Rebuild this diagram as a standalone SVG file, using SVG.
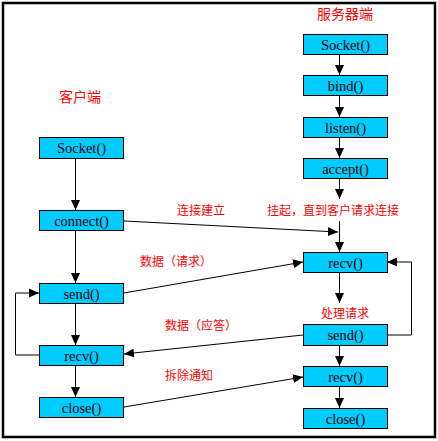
<svg xmlns="http://www.w3.org/2000/svg" width="438" height="441" viewBox="0 0 438 441">
<style>
.box{fill:#00CCFF;stroke:#000;stroke-width:1}
.bt{font-family:"Liberation Serif",serif;font-size:14.5px;fill:#000;text-anchor:middle}
.lb{font-family:"Noto Sans CJK SC",sans-serif;font-size:12px;fill:#FF0000}
.ln{stroke:#000;stroke-width:1;fill:none;marker-end:url(#ah)}
</style>
<defs>
<marker id="ah" markerUnits="userSpaceOnUse" markerWidth="10" markerHeight="10" refX="10" refY="5" orient="auto">
<path d="M0,0.5 L10,5 L0,9.5 z" fill="#000"/>
</marker>
</defs>
<rect x="0" y="0" width="438" height="441" fill="#fff"/>
<rect x="3" y="3" width="432" height="434" fill="none" stroke="#000" stroke-width="2.5"/>

<text class="lb" x="317" y="18.5" style="font-size:14px">服务器端</text>
<text class="lb" x="59" y="102" style="font-size:14px">客户端</text>
<text class="lb" x="177" y="214.5">连接建立</text>
<text class="lb" x="267" y="214.5">挂起，直到客户请求连接</text>
<text class="lb" x="140" y="266">数据（请求）</text>
<text class="lb" x="321" y="318">处理请求</text>
<text class="lb" x="165" y="329.5">数据（应答）</text>
<text class="lb" x="165" y="380">拆除通知</text>

<g id="connectors">
<line class="ln" x1="339.5" y1="54" x2="339.5" y2="75"/>
<line class="ln" x1="339.5" y1="96" x2="339.5" y2="117"/>
<line class="ln" x1="339.5" y1="137" x2="339.5" y2="158"/>
<line class="ln" x1="339.5" y1="178" x2="339.5" y2="199"/>
<line class="ln" x1="339.5" y1="221" x2="339.5" y2="252"/>
<line class="ln" x1="339.5" y1="272" x2="339.5" y2="303"/>
<line class="ln" x1="339.5" y1="345" x2="339.5" y2="366"/>
<line class="ln" x1="339.5" y1="386" x2="339.5" y2="408"/>
<line class="ln" x1="75.5" y1="158" x2="75.5" y2="210"/>
<line class="ln" x1="75.5" y1="230" x2="75.5" y2="283"/>
<line class="ln" x1="75.5" y1="303" x2="75.5" y2="345"/>
<line class="ln" x1="75.5" y1="365" x2="75.5" y2="397"/>
<line class="ln" x1="124" y1="221" x2="338" y2="232"/>
<line class="ln" x1="124" y1="293" x2="303" y2="262"/>
<line class="ln" x1="303" y1="335" x2="124" y2="354"/>
<line class="ln" x1="124" y1="407" x2="303" y2="377"/>
<polyline class="ln" points="39,355 15.5,355 15.5,293 39,293"/>
<polyline class="ln" points="387,335 411.5,335 411.5,262 387,262"/>
</g>

<g id="s-socket"><rect class="box" x="303.5" y="34.5" width="84" height="20"/><text class="bt" x="345.5" y="49.5">Socket()</text></g>
<g id="s-bind"><rect class="box" x="303.5" y="75.5" width="84" height="20"/><text class="bt" x="345.5" y="90.5">bind()</text></g>
<g id="s-listen"><rect class="box" x="303.5" y="117.5" width="84" height="20"/><text class="bt" x="345.5" y="132.5">listen()</text></g>
<g id="s-accept"><rect class="box" x="303.5" y="158.5" width="84" height="20"/><text class="bt" x="345.5" y="173.5">accept()</text></g>
<g id="s-recv"><rect class="box" x="303.5" y="252.5" width="84" height="20"/><text class="bt" x="345.5" y="267.5">recv()</text></g>
<g id="s-send"><rect class="box" x="303.5" y="324.5" width="84" height="21"/><text class="bt" x="345.5" y="340">send()</text></g>
<g id="s-recv2"><rect class="box" x="303.5" y="366.5" width="84" height="20"/><text class="bt" x="345.5" y="381.5">recv()</text></g>
<g id="s-close"><rect class="box" x="303.5" y="408.5" width="84" height="20"/><text class="bt" x="345.5" y="423.5">close()</text></g>

<g id="c-socket"><rect class="box" x="39.5" y="137.5" width="84" height="21"/><text class="bt" x="81.5" y="153">Socket()</text></g>
<g id="c-connect"><rect class="box" x="39.5" y="210.5" width="84" height="20"/><text class="bt" x="81.5" y="225.5">connect()</text></g>
<g id="c-send"><rect class="box" x="39.5" y="283.5" width="84" height="20"/><text class="bt" x="81.5" y="298.5">send()</text></g>
<g id="c-recv"><rect class="box" x="39.5" y="345.5" width="84" height="20"/><text class="bt" x="81.5" y="360.5">recv()</text></g>
<g id="c-close"><rect class="box" x="39.5" y="397.5" width="84" height="20"/><text class="bt" x="81.5" y="412.5">close()</text></g>
</svg>
